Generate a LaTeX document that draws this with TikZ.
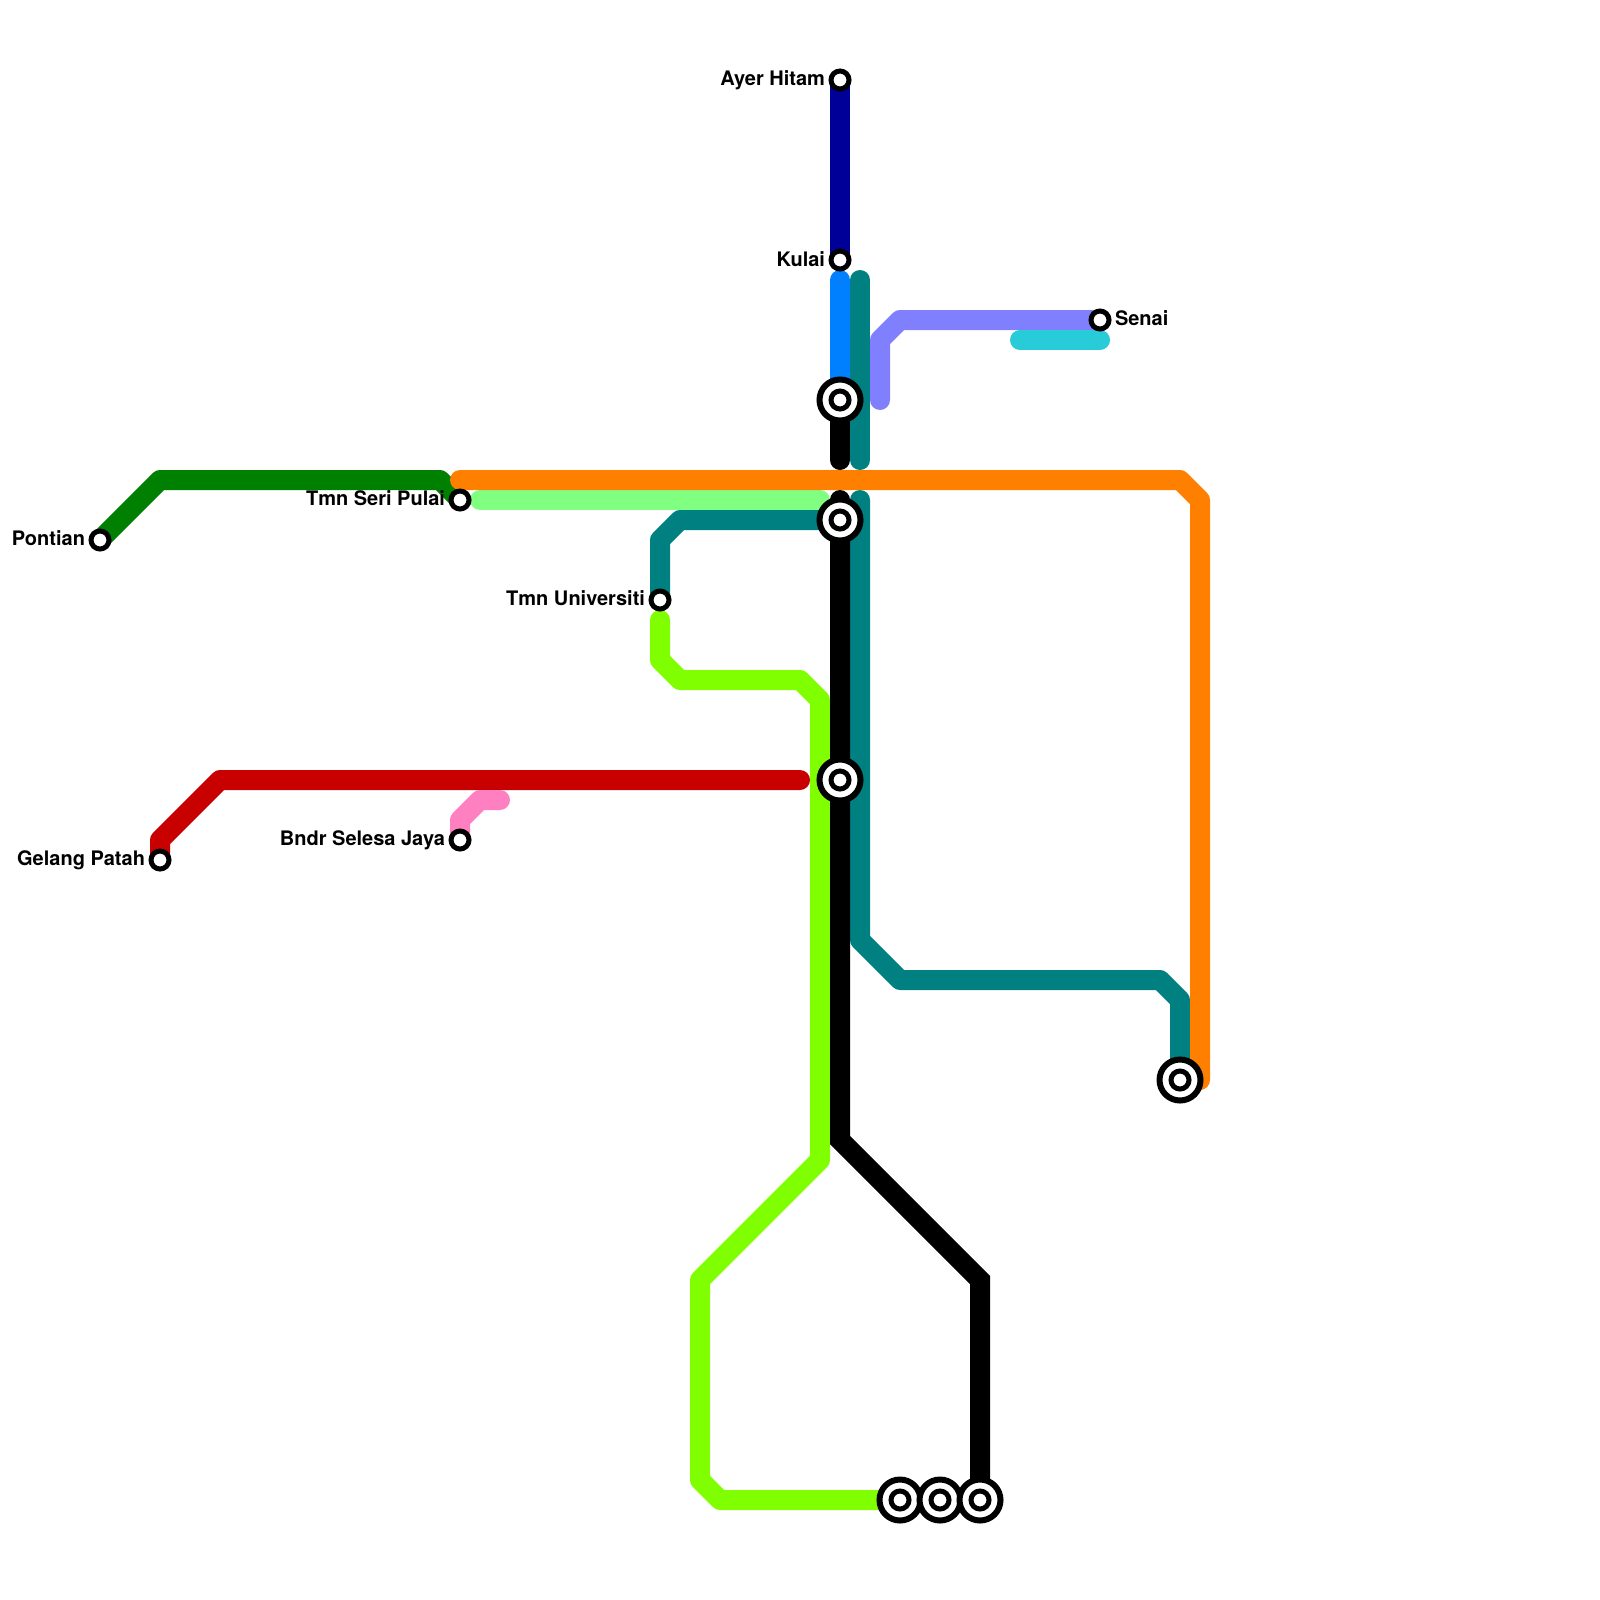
\documentclass[tikz,border=0pt]{standalone}
\usepackage{fontspec}
\setmainfont{TeX Gyre Heros}
\definecolor{cDarkBlue}{HTML}{000099}
\definecolor{cBlue}{HTML}{0080FF}
\definecolor{cTeal}{HTML}{008080}
\definecolor{cPurple}{HTML}{8080FF}
\definecolor{cCyan}{HTML}{28CBD8}
\definecolor{cOrange}{HTML}{FF8000}
\definecolor{cGreen}{HTML}{008000}
\definecolor{cLightGreen}{HTML}{80FF80}
\definecolor{cLime}{HTML}{80FF00}
\definecolor{cRed}{HTML}{C80000}
\definecolor{cPink}{HTML}{FF80C0}
\tikzset{
  metro/.style={line width=20pt,line cap=round,line join=round},
  stn/.style={circle,draw=black,fill=white,line width=5pt,minimum size=18pt,inner sep=0pt,outer sep=0pt},
  hub/.style={circle,draw=black,fill=white,line width=6pt,minimum size=41pt,inner sep=0pt,outer sep=0pt},
  lab/.style={inner sep=0pt,outer sep=0pt,text=black,font=\fontsize{20}{24}\selectfont\bfseries},
}
\begin{document}
\begin{tikzpicture}[x=1pt,y=-1pt]
\useasboundingbox (0,0) rectangle (1600,1600);
% station positions
\coordinate (pAyer) at (840,80);
\coordinate (pKulai) at (840,260);
\coordinate (pSenai) at (1100,320);
\coordinate (pPontian) at (100,540);
\coordinate (pPulai) at (460,500);
\coordinate (pUniv) at (660,600);
\coordinate (pSelesa) at (460,840);
\coordinate (pGelang) at (160,860);
\coordinate (pHubA) at (840,400);
\coordinate (pHubB) at (840,520);
\coordinate (pHubC) at (840,780);
\coordinate (pHubD) at (1180,1080);
\coordinate (pHubE) at (900,1500);
\coordinate (pHubF) at (940,1500);
\coordinate (pHubG) at (980,1500);
% free line ends
\coordinate (eBlue) at (840,280);
\coordinate (eTealTop) at (860,280);
\coordinate (eTealMid) at (860,460);
\coordinate (eTealLow) at (860,500);
\coordinate (eBlackMid) at (840,460);
\coordinate (eBlackLow) at (840,500);
\coordinate (eOrangeL) at (460,480);
\coordinate (eLightL) at (480,500);
\coordinate (eLightR) at (820,500);
\coordinate (eLime) at (660,620);
\coordinate (eRed) at (800,780);
\coordinate (ePink) at (500,800);
\coordinate (ePurple) at (880,400);
\coordinate (eCyanL) at (1020,340);
\coordinate (eCyanR) at (1100,340);
% lines
\draw[metro,cDarkBlue,line cap=butt] (pAyer) -- (pKulai);
\draw[metro,cBlue] (eBlue) -- (pHubA);
\draw[metro,cTeal] (eTealTop) -- (eTealMid);
\draw[metro,black] (pHubA) -- (eBlackMid);
\draw[metro,cPurple] (ePurple) -- (880,340) -- (900,320) -- (pSenai);
\draw[metro,cCyan] (eCyanL) -- (eCyanR);
\draw[metro,cGreen] (pPontian) -- (160,480) -- (440,480) -- (pPulai);
\draw[metro,cLightGreen] (eLightL) -- (eLightR);
\draw[metro,cTeal] (pUniv) -- (660,540) -- (680,520) -- (pHubB);
\draw[metro,cTeal] (eTealLow) -- (860,940) -- (900,980) -- (1160,980) -- (1180,1000) -- (pHubD);
\draw[metro,cOrange] (eOrangeL) -- (1180,480) -- (1200,500) -- (1200,1080);
\draw[metro,cLime] (eLime) -- (660,660) -- (680,680) -- (800,680) -- (820,700) -- (820,1160) -- (700,1280) -- (700,1480) -- (720,1500) -- (pHubE);
\draw[metro,cRed] (pGelang) -- (160,840) -- (220,780) -- (eRed);
\draw[metro,cPink] (pSelesa) -- (460,820) -- (480,800) -- (ePink);
\draw[metro,black,line join=miter] (eBlackLow) -- (840,1140) -- (980,1280) -- (pHubG);
% interchanges
\foreach \p/\n in {pHubA/hubA,pHubB/hubB,pHubC/hubC,pHubD/hubD,pHubE/hubE,pHubF/hubF,pHubG/hubG}{
  \node[hub] (\n) at (\p) {};
  \node[stn] (\n i) at (\p) {};
}
% stations
\node[stn] (ayer) at (pAyer) {};
\node[stn] (kulai) at (pKulai) {};
\node[stn] (senai) at (pSenai) {};
\node[stn] (pontian) at (pPontian) {};
\node[stn] (pulai) at (pPulai) {};
\node[stn] (univ) at (pUniv) {};
\node[stn] (selesa) at (pSelesa) {};
\node[stn] (gelang) at (pGelang) {};
% labels
\node[lab,anchor=base east] (lAyer) at ([shift={(-15,6)}]pAyer) {Ayer Hitam};
\node[lab,anchor=base east] (lKulai) at ([shift={(-15,6)}]pKulai) {Kulai};
\node[lab,anchor=base west] (lSenai) at ([shift={(15,5)}]pSenai) {Senai};
\node[lab,anchor=base east] (lPontian) at ([shift={(-15,5)}]pPontian) {Pontian};
\node[lab,anchor=base east] (lPulai) at ([shift={(-15,5)}]pPulai) {Tmn Seri Pulai};
\node[lab,anchor=base east] (lUniv) at ([shift={(-15,5)}]pUniv) {Tmn Universiti};
\node[lab,anchor=base east] (lSelesa) at ([shift={(-15,5)}]pSelesa) {Bndr Selesa Jaya};
\node[lab,anchor=base east] (lGelang) at ([shift={(-15,5)}]pGelang) {Gelang Patah};
\end{tikzpicture}
\end{document}
